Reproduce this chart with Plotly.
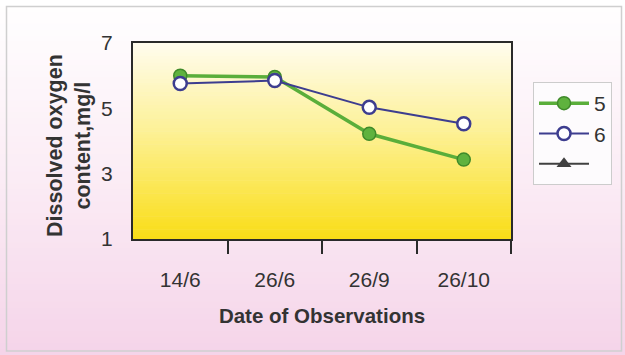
import plotly.graph_objects as go

# Observation dates and dissolved oxygen readings (mg/l)
dates = ["14/6", "26/6", "26/9", "26/10"]
series_5 = [6.0, 5.96, 4.22, 3.43]
series_6 = [5.76, 5.85, 5.03, 4.53]
series_blank = [None, None, None, None]

y_ticks = [1, 3, 5, 7]

# Page geometry (px)
W, H = 625, 355
ML, MR, MT, MB = 133, 114, 43, 116
PW = W - ML - MR
PH = H - MT - MB


def px_to_paper_x(px):
    return (px - ML) / PW


def px_to_paper_y(py):
    return 1 - (py - MT) / PH


def lerp(c0, c1, t):
    return tuple(round(a + (b - a) * t) for a, b in zip(c0, c1))


def rgb(c):
    return "rgb(%d,%d,%d)" % c


shapes = []

# Page background: white at the top fading into soft pink at the bottom
N_BG = 60
top_c, mid_c, bot_c = (255, 255, 255), (251, 236, 245), (245, 212, 233)
for i in range(N_BG):
    t0, t1 = i / N_BG, (i + 1) / N_BG
    tm = (t0 + t1) / 2
    c = lerp(top_c, mid_c, tm / 0.5) if tm < 0.5 else lerp(mid_c, bot_c, (tm - 0.5) / 0.5)
    shapes.append(dict(
        type="rect", xref="paper", yref="paper", layer="below",
        x0=px_to_paper_x(0), x1=px_to_paper_x(W),
        y0=px_to_paper_y(H * t0), y1=px_to_paper_y(H * t1 + 1),
        fillcolor=rgb(c), line=dict(width=0),
    ))

# Light frame around the chart area
shapes.append(dict(
    type="rect", xref="paper", yref="paper", layer="below",
    x0=px_to_paper_x(6.5), x1=px_to_paper_x(621.5),
    y0=px_to_paper_y(351), y1=px_to_paper_y(6.5),
    fillcolor="rgba(0,0,0,0)", line=dict(color="#cfcfcf", width=1.5),
))

# Plot area: cream at the top turning to saturated yellow at the bottom
N_PA = 60
pa_top, pa_mid, pa_bot = (255, 252, 238), (253, 241, 150), (249, 221, 22)
for i in range(N_PA):
    t0, t1 = i / N_PA, (i + 1) / N_PA
    tm = (t0 + t1) / 2
    c = lerp(pa_top, pa_mid, tm / 0.45) if tm < 0.45 else lerp(pa_mid, pa_bot, (tm - 0.45) / 0.55)
    shapes.append(dict(
        type="rect", xref="x domain", yref="y domain", layer="below",
        x0=0, x1=1, y0=1 - t1 - 0.003, y1=1 - t0,
        fillcolor=rgb(c), line=dict(width=0),
    ))

x_idx = list(range(len(dates)))

fig = go.Figure()
fig.add_trace(go.Scatter(
    x=x_idx, y=series_5, name="5", mode="lines+markers",
    line=dict(color="#5aae3a", width=3.5),
    marker=dict(symbol="circle", size=13, color="#5fb23e",
                line=dict(color="#3f8a2a", width=1.5)),
))
fig.add_trace(go.Scatter(
    x=x_idx, y=series_6, name="6", mode="lines+markers",
    line=dict(color="#3d3d8f", width=2),
    marker=dict(symbol="circle", size=13, color="#ffffff",
                line=dict(color="#3d3d8f", width=2.5)),
))
fig.add_trace(go.Scatter(
    x=x_idx, y=series_blank, name=" ", mode="lines+markers",
    line=dict(color="#404040", width=2),
    marker=dict(symbol="triangle-up", size=13, color="#404040"),
))

font_family = "Liberation Sans, Arial, sans-serif"

fig.update_layout(
    width=W, height=H,
    margin=dict(l=ML, r=MR, t=MT, b=MB, pad=0),
    paper_bgcolor="#ffffff",
    plot_bgcolor="rgba(0,0,0,0)",
    font=dict(family=font_family, color="#333333"),
    shapes=shapes,
    showlegend=True,
    legend=dict(
        x=px_to_paper_x(533), y=px_to_paper_y(82),
        xanchor="left", yanchor="top",
        bgcolor="#fdfbfd", bordercolor="#cccccc", borderwidth=1,
        font=dict(size=21, color="#333333"),
        itemwidth=50, tracegroupgap=6,
    ),
    xaxis=dict(
        range=[-0.5, 3.5],
        tickmode="array", tickvals=x_idx, ticktext=dates,
        ticks="", ticklabelstandoff=21,
        tickfont=dict(size=21, color="#333333"),
        minor=dict(tickmode="array", tickvals=[0.5, 1.5, 2.5, 3.5],
                   ticks="outside", ticklen=13, tickwidth=2,
                   tickcolor="#2a2a2a", showgrid=False),
        showgrid=False, zeroline=False,
        showline=True, mirror=True, linecolor="#2a2a2a", linewidth=2,
        title=dict(text="<b>Date of Observations</b>", standoff=18,
                   font=dict(size=20.5, color="#333333")),
        fixedrange=True,
    ),
    yaxis=dict(
        range=[1, 7],
        tickmode="array", tickvals=y_ticks,
        ticks="", ticklabelstandoff=14,
        tickfont=dict(size=21, color="#333333"),
        showgrid=False, zeroline=False,
        showline=True, mirror=True, linecolor="#2a2a2a", linewidth=2,
        fixedrange=True,
    ),
    annotations=[dict(
        text="<b>Dissolved oxygen<br>content,mg/l</b>",
        xref="paper", yref="paper",
        x=px_to_paper_x(69), y=px_to_paper_y(146),
        xanchor="center", yanchor="middle",
        textangle=-90, showarrow=False,
        font=dict(size=21.5, color="#333333"),
    )],
)

fig.write_html("out.html")
